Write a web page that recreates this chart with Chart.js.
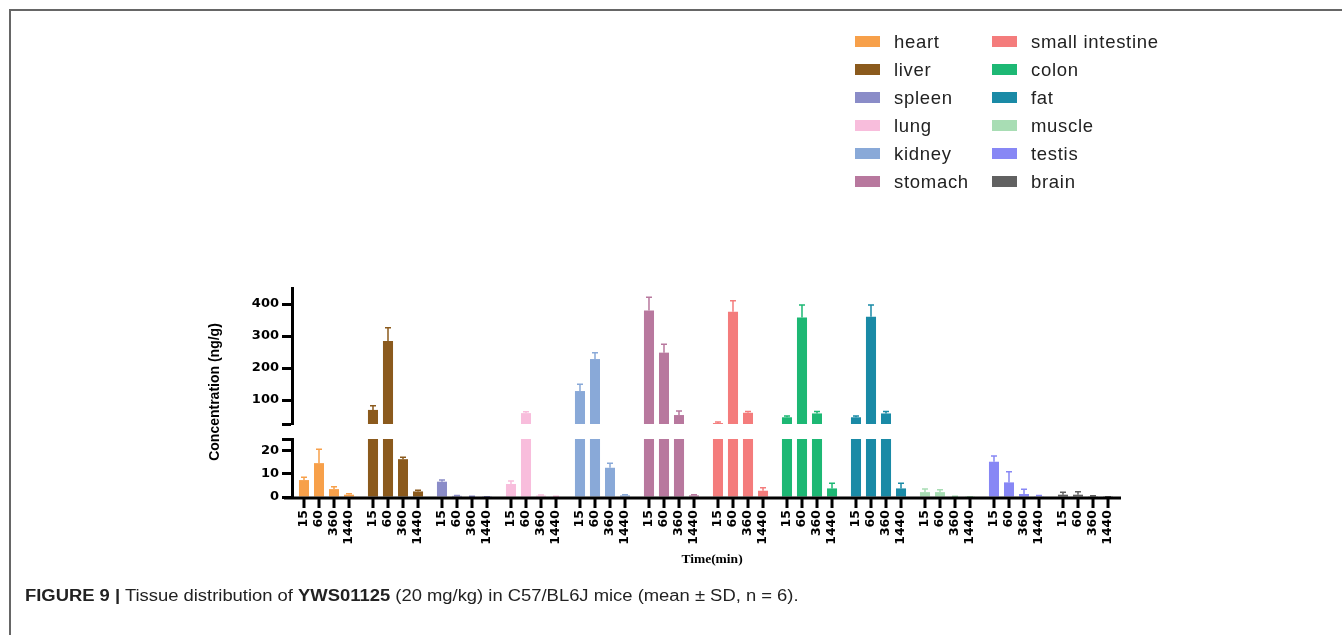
<!DOCTYPE html>
<html>
<head>
<meta charset="utf-8">
<script src="https://cdn.jsdelivr.net/npm/chart.js@4.4.1/dist/chart.umd.min.js"></script>
<style>
    body { margin: 0; background: white; font-family: "Liberation Sans", Arial, sans-serif; }
    #page { position: relative; width: 1342px; height: 635px; overflow: hidden; }
    #frame { position: absolute; left: 9px; top: 9px; width: 1340px; height: 630px;
             border-top: 2px solid #666; border-left: 2px solid #666; }
    canvas { position: absolute; left: 0; top: 0; }
    #legend { position: absolute; left: 855px; top: 28px; }
    .leg-item { position: absolute; width: 200px; height: 28px; font-size: 18.5px; color: #222;
                line-height: 28px; white-space: nowrap; letter-spacing: 0.7px; }
    .leg-box { display: inline-block; width: 25px; height: 11px; vertical-align: middle;
               margin-right: 14px; margin-top: -3px; }
    #caption { position: absolute; left: 25px; top: 587px; font-size: 16px; color: #222; white-space: nowrap;
               transform: scaleX(1.15); transform-origin: left center; }
    #caption b { font-weight: bold; }
</style>
</head>
<body>
<div id="page">
    <div id="frame"></div>
    <canvas id="upper" width="1342" height="635"></canvas>
    <canvas id="lower" width="1342" height="635"></canvas>
    <div id="legend"></div>
    <div id="caption"><b>FIGURE 9 |</b> Tissue distribution of <b>YWS01125</b> (20 mg/kg) in C57/BL6J mice (mean ± SD, n = 6).</div>
</div>
<script>
const tissues = ['heart', 'liver', 'spleen', 'lung', 'kidney', 'stomach',
    'small intestine', 'colon', 'fat', 'muscle', 'testis', 'brain'];
const tissueColors = ['#f7a04a', '#8b5a1d', '#8a8cc8', '#f8bddc', '#89a9d8', '#b8789e',
    '#f47c7c', '#1db874', '#1a8aa6', '#a8ddb4', '#8787f5', '#616161'];
const timePoints = ['15', '60', '360', '1440'];

// mean concentration (ng/g) per tissue, one array per time point
const conc15 = [7.3, 69, 6.6, 5.6, 128, 380, 28, 46, 46, 2.1, 15.2, 1.0];
const conc60 = [14.6, 284, 0.5, 59, 228, 248, 376, 358, 360, 2.1, 6.3, 1.0];
const conc360 = [3.4, 16.3, 0.2, 0.6, 12.6, 53, 60, 58, 58, 0.2, 1.3, 0.3];
const conc1440 = [1.0, 2.4, 0.1, 0.2, 0.7, 0.7, 2.7, 3.7, 3.7, 0.1, 0.3, 0.1];

// SD
const sd15 = [1.2, 13, 0.7, 1.3, 21, 41, 3, 4, 4, 1.3, 2.5, 1.0];
const sd60 = [6, 42, 0.2, 4, 20, 26, 34, 39, 37, 1.0, 4.6, 1.3];
const sd360 = [1.0, 0.8, 0.1, 0.3, 2.0, 13, 4, 6, 6, 0.1, 2.0, 0.2];
const sd1440 = [0.4, 0.5, 0.05, 0.1, 0.3, 0.3, 1.3, 2.2, 2.2, 0.05, 0.3, 0.05];

const upperTicks = [25, 100, 200, 300, 400];
const lowerTicks = [0, 10, 20, 25];

const concs = [conc15, conc60, conc360, conc1440];
const sds = [sd15, sd60, sd360, sd1440];

// legend in two columns
const legendDiv = document.getElementById('legend');
tissues.forEach((t, i) => {
    const item = document.createElement('div');
    item.className = 'leg-item';
    item.style.left = (i < 6 ? 0 : 137) + 'px';
    item.style.top = ((i % 6) * 28) + 'px';
    item.innerHTML = '<span class="leg-box" style="background:' + tissueColors[i] + '"></span>' + t;
    legendDiv.appendChild(item);
});

function makeDatasets() {
    return timePoints.map((tp, k) => ({
        label: tp,
        data: concs[k],
        backgroundColor: tissueColors,
        borderWidth: 0,
        categoryPercentage: 0.87,
        barPercentage: 0.67
    }));
}

// error bars: upward whisker with cap, clipped to chart area
const errorBars = {
    id: 'errorBars',
    afterDatasetsDraw(chart) {
        const ctx = chart.ctx;
        const area = chart.chartArea;
        const y = chart.scales.y;
        ctx.save();
        ctx.beginPath();
        ctx.rect(area.left, area.top - 2, area.right - area.left, area.bottom - area.top + 2);
        ctx.clip();
        ctx.lineWidth = 1.5;
        chart.data.datasets.forEach((ds, k) => {
            chart.getDatasetMeta(k).data.forEach((bar, j) => {
                const v = ds.data[j];
                const top = y.getPixelForValue(v + sds[k][j]);
                const base = y.getPixelForValue(v);
                ctx.strokeStyle = tissueColors[j];
                ctx.beginPath();
                ctx.moveTo(bar.x, base);
                ctx.lineTo(bar.x, top);
                ctx.moveTo(bar.x - 3, top);
                ctx.lineTo(bar.x + 3, top);
                ctx.stroke();
            });
        });
        ctx.restore();
    }
};

// x axis with a tick and rotated time label under every bar, plus axis titles
const bottomAxis = {
    id: 'bottomAxis',
    afterDraw(chart) {
        const ctx = chart.ctx;
        const area = chart.chartArea;
        const yb = area.bottom + 1;
        ctx.save();
        ctx.strokeStyle = '#000';
        ctx.fillStyle = '#000';
        ctx.lineWidth = 3;
        ctx.beginPath();
        ctx.moveTo(area.left - 8, yb);
        ctx.lineTo(area.right + 1, yb);
        ctx.stroke();
        ctx.font = 'bold 12.5px "DejaVu Sans"';
        ctx.textAlign = 'right';
        ctx.textBaseline = 'middle';
        chart.data.datasets.forEach((ds, k) => {
            chart.getDatasetMeta(k).data.forEach(bar => {
                ctx.beginPath();
                ctx.moveTo(bar.x, yb);
                ctx.lineTo(bar.x, yb + 10);
                ctx.stroke();
                ctx.save();
                ctx.translate(bar.x, yb + 12);
                ctx.rotate(-Math.PI / 2);
                ctx.fillText(ds.label, 0, 0);
                ctx.restore();
            });
        });
        ctx.font = 'bold 13.5px "Liberation Serif"';
        ctx.textAlign = 'center';
        ctx.fillText('Time(min)', 712, 560);
        ctx.font = 'bold 14px "Liberation Sans"';
        ctx.translate(215, 392);
        ctx.rotate(-Math.PI / 2);
        ctx.fillText('Concentration (ng/g)', 0, 0);
        ctx.restore();
    }
};

function yScale(min, max, tickValues) {
    return {
        min: min,
        max: max,
        afterFit(scale) { scale.width = 60; },
        afterBuildTicks(scale) { scale.ticks = tickValues.map(v => ({ value: v })); },
        border: { display: true, color: '#000', width: 3 },
        grid: { drawOnChartArea: false, drawTicks: true, tickLength: 10, tickWidth: 3, tickColor: '#000' },
        ticks: {
            color: '#000',
            padding: 3,
            font: { family: 'DejaVu Sans', weight: 'bold', size: 13 },
            callback: v => (v === 25 ? '' : v)
        }
    };
}

function makeChart(id, padding, ymin, ymax, ticks, plugins) {
    return new Chart(document.getElementById(id), {
        type: 'bar',
        data: { labels: tissues, datasets: makeDatasets() },
        options: {
            responsive: false,
            animation: false,
            devicePixelRatio: 1,
            layout: { padding: padding },
            plugins: { legend: { display: false }, tooltip: { enabled: false } },
            scales: {
                x: { type: 'category', display: false },
                y: yScale(ymin, ymax, ticks)
            }
        },
        plugins: plugins
    });
}

makeChart('upper', { left: 232, right: 222, top: 288, bottom: 211 }, 25, 450, upperTicks, [errorBars]);
makeChart('lower', { left: 232, right: 222, top: 439, bottom: 138 }, 0, 25, lowerTicks, [errorBars, bottomAxis]);
</script>
</body>
</html>
